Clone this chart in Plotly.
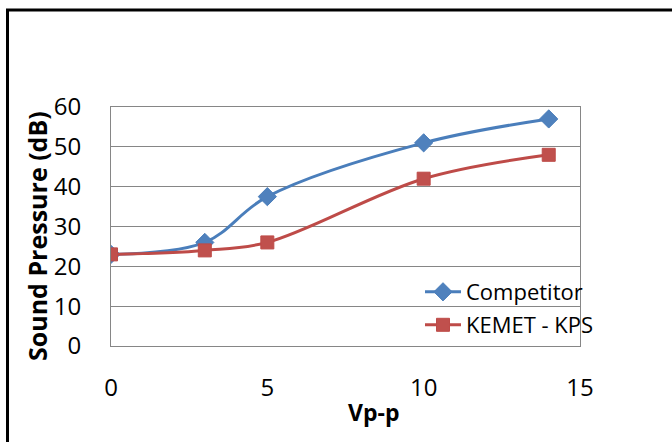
import plotly.graph_objects as go

x_vals = [0, 3, 5, 10, 14]
competitor = [23, 26, 37.5, 51, 57]
kemet = [23, 24, 26, 42, 48]
x_ticks = [0, 5, 10, 15]
y_ticks = [0, 10, 20, 30, 40, 50, 60]

FONT = "Open Sans"

fig = go.Figure()
fig.add_trace(go.Scatter(
    x=x_vals, y=competitor, name="Competitor", mode="lines+markers",
    line=dict(color="#4A7EBB", width=3, shape="spline", smoothing=1.0),
    marker=dict(symbol="diamond", size=14, color="#4F81BD",
                line=dict(color="#4A7EBB", width=1)),
    legend="legend",
))
fig.add_trace(go.Scatter(
    x=x_vals, y=kemet, name="KEMET - KPS", mode="lines+markers",
    line=dict(color="#BE4B48", width=3, shape="spline", smoothing=1.0),
    marker=dict(symbol="square", size=13, color="#C0504D",
                line=dict(color="#BE4B48", width=1)),
    legend="legend2",
))

W, H = 672, 442
L, R, T, B = 111, 92, 107, 96
pw, ph = W - L - R, H - T - B

def px(xp):
    return (xp - L) / pw

def py(yp):
    return (H - B - yp) / ph

leg_common = dict(xanchor="left", yanchor="middle", bgcolor="rgba(0,0,0,0)",
                  font=dict(size=22, family=FONT, color="black"), itemwidth=36,
                  borderwidth=0)

fig.update_layout(
    width=W, height=H,
    margin=dict(l=L, r=R, t=T, b=B),
    paper_bgcolor="white", plot_bgcolor="white",
    font=dict(family=FONT, color="black", size=20),
    showlegend=True,
    legend=dict(x=px(420), y=py(292), **leg_common),
    legend2=dict(x=px(420), y=py(325), **leg_common),
    xaxis=dict(
        range=[0, 15], tickvals=x_ticks, ticktext=[str(v) for v in x_ticks],
        showgrid=False, zeroline=False, showline=True, linecolor="#868686",
        linewidth=1, mirror=True, ticks="", tickfont=dict(size=24),
        ticklabelstandoff=20,
    ),
    yaxis=dict(
        range=[0, 60], tickvals=y_ticks, ticktext=[str(v) for v in y_ticks],
        showgrid=True, gridcolor="#868686", gridwidth=1, zeroline=False,
        showline=True, linecolor="#868686", linewidth=1, mirror=True,
        ticks="", tickfont=dict(size=24), ticklabelstandoff=24,
    ),
    annotations=[
        dict(text="<b>Vp-p</b>", xref="paper", yref="paper",
             x=px(373), y=py(412), xanchor="center", yanchor="middle",
             showarrow=False, font=dict(size=23, family=FONT)),
        dict(text="<b>Sound Pressure (dB)</b>", xref="paper", yref="paper",
             x=px(37), y=py(236), xanchor="center", yanchor="middle",
             textangle=-90, showarrow=False, font=dict(size=25, family=FONT)),
    ],
    shapes=[
        dict(type="line", xref="paper", yref="paper",
             x0=px(6), x1=px(W + 5), y0=py(10), y1=py(10),
             line=dict(color="black", width=3)),
        dict(type="line", xref="paper", yref="paper",
             x0=px(7.5), x1=px(7.5), y0=py(9), y1=py(H + 5),
             line=dict(color="black", width=3)),
    ],
)

fig.write_html("out.html", config={"displayModeBar": False},
               post_script="document.body.style.margin='0';document.body.style.overflow='hidden';")
